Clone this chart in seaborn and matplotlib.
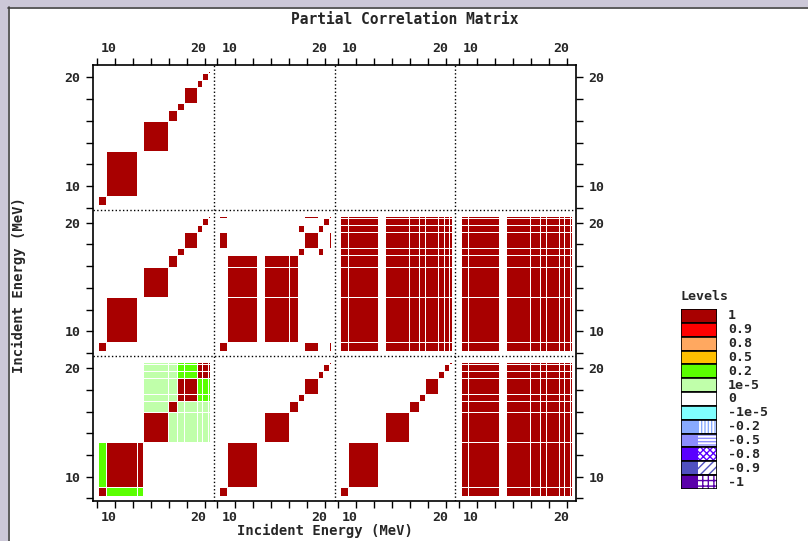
import numpy as np
import matplotlib
matplotlib.use("Agg")
import matplotlib.pyplot as plt
import matplotlib.transforms as mtransforms
from matplotlib.colors import ListedColormap, BoundaryNorm
from matplotlib.patches import Rectangle
from matplotlib.lines import Line2D
import seaborn as sns

sns.set_style("ticks")
plt.rcParams['font.family'] = ['DejaVu Sans Mono']
plt.rcParams['font.weight'] = 'bold'
plt.rcParams['hatch.linewidth'] = 1.0

# energy group edges (MeV) of one block, along x and along y
x_edges = [8.2, 9.05, 12.45, 13.2, 15.9, 16.95, 17.65, 19.12, 19.72, 20.35, 20.6]
y_edges = [8.2, 9.05, 13.2, 15.95, 17.0, 17.65, 19.12, 19.77, 20.42, 20.6]

# block matrices, rows = y groups from low to high energy
diag_block = [
    [1, 0, 0, 0, 0, 0, 0, 0, 0, 0],
    [0, 1, 0, 0, 0, 0, 0, 0, 0, 0],
    [0, 0, 0, 1, 0, 0, 0, 0, 0, 0],
    [0, 0, 0, 0, 1, 0, 0, 0, 0, 0],
    [0, 0, 0, 0, 0, 1, 0, 0, 0, 0],
    [0, 0, 0, 0, 0, 0, 1, 0, 0, 0],
    [0, 0, 0, 0, 0, 0, 0, 1, 0, 0],
    [0, 0, 0, 0, 0, 0, 0, 0, 1, 0],
    [0, 0, 0, 0, 0, 0, 0, 0, 0, 1],
]
mixed_block = [
    [1, 0, 0, 0, 0, 0, 1, 0, 0, 1],
    [0, 1, 0, 1, 1, 0, 0, 0, 0, 0],
    [0, 1, 0, 1, 1, 0, 0, 0, 0, 0],
    [0, 1, 0, 1, 1, 0, 0, 0, 0, 0],
    [0, 0, 0, 0, 0, 1, 0, 1, 0, 0],
    [1, 0, 0, 0, 0, 0, 1, 0, 0, 1],
    [0, 0, 0, 0, 0, 1, 0, 1, 0, 0],
    [0, 0, 0, 0, 0, 0, 0, 0, 1, 0],
    [1, 0, 0, 0, 0, 0, 1, 0, 0, 1],
]
green_block = [
    [1, 0.3, 0.3, 0, 0, 0, 0, 0, 0, 0],
    [0.3, 1, 1, 0, 0, 0, 0, 0, 0, 0],
    [0, 0, 0, 1, 0.05, 0.05, 0.05, 0.05, 0.05, 0.05],
    [0, 0, 0, 0.05, 1, 0.05, 0.05, 0.05, 0.05, 0.05],
    [0, 0, 0, 0.05, 0.05, 1, 1, 0.3, 0.3, 0.3],
    [0, 0, 0, 0.05, 0.05, 1, 1, 0.3, 0.3, 0.3],
    [0, 0, 0, 0.05, 0.05, 0.3, 0.3, 1, 1, 1],
    [0, 0, 0, 0.05, 0.05, 0.3, 0.3, 1, 1, 1],
    [0, 0, 0, 0.05, 0.05, 0.3, 0.3, 1, 1, 1],
]
full_block = [[1, 1, 0, 1, 1, 1, 1, 1, 1, 1] for _ in range(9)]
empty_block = [[0] * 10 for _ in range(9)]

blocks = [
    [diag_block, empty_block, empty_block, empty_block],
    [diag_block, mixed_block, full_block, full_block],
    [green_block, diag_block, diag_block, full_block],
]

level_labels = ['1', '0.9', '0.8', '0.5', '0.2', '1e-5', '0', '-1e-5',
                '-0.2', '-0.5', '-0.8', '-0.9', '-1']
level_colors = ['#A80000', '#FF0000', '#FFA860', '#FFC000', '#5AFF00', '#C0FFAA',
                '#FFFFFF', '#80FFFF', '#88AAFF', '#8C8CFF', '#5A00FF', '#5050C0', '#5A00AA']
level_hatch = [None] * 8 + ['|||||', '-----', 'xxxxx', '////', '+++']
bounds = [-0.99, -0.9, -0.8, -0.5, -0.2, -1e-5, 1e-5, 0.2, 0.5, 0.8, 0.9, 0.99]

cmap = ListedColormap(level_colors[::-1])
norm = BoundaryNorm(bounds, ncolors=13, extend='both')

W = 13.4
X0, Y0 = 7.6, 7.75

fig = plt.figure(figsize=(8.08, 5.41), dpi=100)
ax = fig.add_axes([93 / 808, 1 - 501 / 541, 483 / 808, 436 / 541])

for r, row in enumerate(blocks):
    for c, m in enumerate(row):
        gx = c * W + np.array(x_edges) - X0
        gy = (2 - r) * W + np.array(y_edges) - Y0
        ax.pcolormesh(gx, gy, np.array(m, float), cmap=cmap, norm=norm,
                      edgecolors='white', linewidth=0.7)

ax.set_xlim(0, 4 * W)
ax.set_ylim(0, 3 * W)

for c in range(1, 4):
    ax.axvline(c * W, color='black', ls=':', lw=1)
for r in range(1, 3):
    ax.axhline(r * W, color='black', ls=':', lw=1)

tick_e = [8, 10, 12, 14, 16, 18, 20]
xt = [c * W + e - X0 for c in range(4) for e in tick_e]
xl = [str(e) if e in (10, 20) else '' for c in range(4) for e in tick_e]
yt = [r * W + e - Y0 for r in range(3) for e in tick_e]
yl = [str(e) if e in (10, 20) else '' for r in range(3) for e in tick_e]
ax.set_xticks(xt)
ax.set_xticklabels(xl)
ax.set_yticks(yt)
ax.set_yticklabels(yl)
ax.tick_params(direction='out', top=True, right=True, labeltop=True, labelright=True,
               length=5, width=1, labelsize=9.5, color='black')
ax.tick_params(axis='x', pad=2)
ax.tick_params(axis='y', pad=4)
for s in ax.spines.values():
    s.set_color('black')
    s.set_linewidth(1.2)

# x tick labels sit to the left of their tick
shift = mtransforms.ScaledTranslation(2 / 100, 0, fig.dpi_scale_trans)
for t in ax.xaxis.get_major_ticks():
    for lab in (t.label1, t.label2):
        lab.set_horizontalalignment('right')
        lab.set_transform(lab.get_transform() + shift)

fig.text(405 / 808, 1 - 20 / 541, 'Partial Correlation Matrix', ha='center', va='center',
         fontsize=10.5, fontweight='bold')
fig.text(325 / 808, 1 - 531 / 541, 'Incident Energy (MeV)', ha='center', va='center',
         fontsize=10, fontweight='bold')
fig.text(19 / 808, 1 - 285 / 541, 'Incident Energy (MeV)', ha='center', va='center',
         rotation=90, fontsize=10, fontweight='bold')

# legend of levels
lax = fig.add_axes([681 / 808, 1 - 489 / 541, 36 / 808, 180 / 541])
lax.set_xlim(0, 1)
lax.set_ylim(0, 13)
lax.axis('off')
for i, (lab, col, h) in enumerate(zip(level_labels, level_colors, level_hatch)):
    y = 12 - i
    if h is None:
        lax.add_patch(Rectangle((0, y), 1, 1, facecolor=col, edgecolor='none'))
    else:
        lax.add_patch(Rectangle((0, y), 0.47, 1, facecolor=col, edgecolor='none'))
        lax.add_patch(Rectangle((0.47, y), 0.53, 1, facecolor='white', edgecolor=col,
                                hatch=h, linewidth=0))
    lax.add_patch(Rectangle((0, y), 1, 1, fill=False, edgecolor='black', linewidth=1.2))
    lax.text(1.3, y + 0.5, lab, ha='left', va='center', fontsize=9.5, fontweight='bold')
lax.text(0, 13.9, 'Levels', ha='left', va='center', fontsize=9.5, fontweight='bold')

# window frame
fig.patches.append(Rectangle((0, 0), 8 / 808, 1, transform=fig.transFigure,
                             facecolor='#CCC8D8', edgecolor='none'))
fig.patches.append(Rectangle((0, 1 - 7 / 541), 1, 7 / 541, transform=fig.transFigure,
                             facecolor='#CCC8D8', edgecolor='none'))
fig.lines.append(Line2D([8.5 / 808, 8.5 / 808], [0, 1 - 7 / 541], transform=fig.transFigure,
                        color='#404040', lw=1.2))
fig.lines.append(Line2D([8 / 808, 1], [1 - 7.5 / 541, 1 - 7.5 / 541], transform=fig.transFigure,
                        color='#404040', lw=1.2))

fig.savefig('out.png', dpi=100)
